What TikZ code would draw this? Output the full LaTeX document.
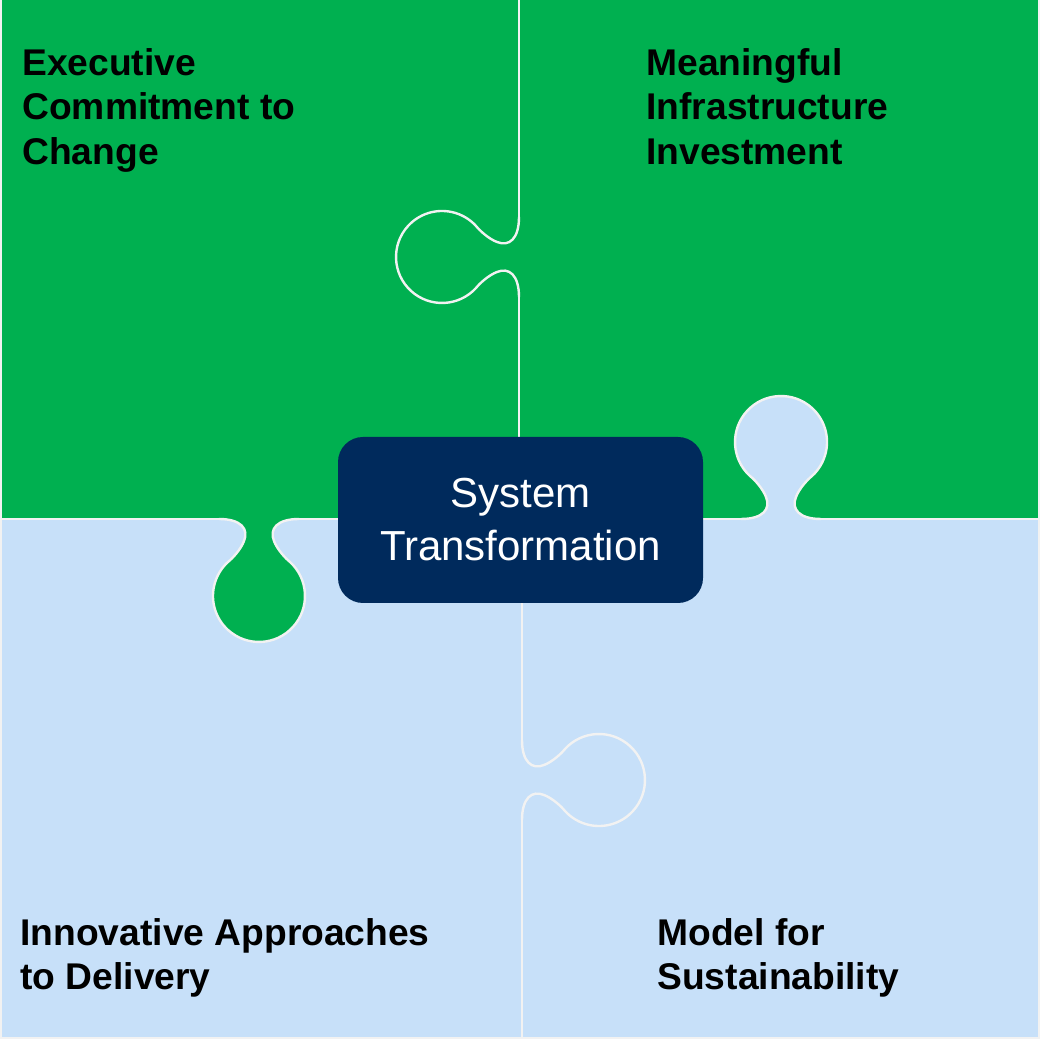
\documentclass[tikz,border=0pt]{standalone}
\usepackage{fontspec}
\setmainfont{Liberation Sans}
\definecolor{pgreen}{RGB}{0,176,80}
\definecolor{pblue}{RGB}{199,224,249}
\definecolor{pnavy}{RGB}{0,42,92}
\definecolor{pline}{RGB}{242,242,242}
\tikzset{
  seam/.style={draw=pline, line width=1.2pt, line cap=round},
  knob/.pic={\path[pic actions] (-40,0) .. controls (-18,0) and (-10,10) .. (-15,22)
    .. controls (-18,30) and (-26,39) .. (-31,43)
    arc[start angle=227.6, end angle=-47.6, radius=46]
    .. controls (26,39) and (18,30) .. (15,22)
    .. controls (10,10) and (18,0) .. (40,0);},
  lbl/.style={anchor=north west, align=left, inner sep=0pt,
    font=\bfseries\fontsize{18.6}{22.3}\selectfont},
  sysbox/.style={fill=pnavy, text=white, rounded corners=12.5pt, inner sep=0pt,
    minimum width=182.5pt, minimum height=83pt, align=center,
    font=\fontsize{21}{26.5}\selectfont}
}
\begin{document}
\begin{tikzpicture}[x=0.5pt,y=0.5pt]
\useasboundingbox (0,0) rectangle (1040,1039);
\fill[pgreen] (0,520) rectangle (1040,1039);
\fill[pblue] (0,0) rectangle (1040,520);
\draw[seam] (1,1039) -- (1,1) -- (1039,1) -- (1039,1039);
\draw[seam] (519,1039) -- (519,822);
\draw[seam] (519,742) -- (519,520);
\draw[seam] (522,520) -- (522,299);
\draw[seam] (522,219) -- (522,0);
\draw[seam] (0,520) -- (219,520);
\draw[seam] (299,520) -- (741,520);
\draw[seam] (821,520) -- (1040,520);
\pic[seam, rotate=90] at (519,782) {knob};
\pic[seam, fill=pblue] at (781,520) {knob};
\pic[seam, fill=pgreen, rotate=180] at (259,520) {knob};
\pic[seam, rotate=-90] at (522,259) {knob};
\node[lbl] (exec) at (22,991) {Executive\\Commitment to\\Change};
\node[lbl] (infra) at (646,991) {Meaningful\\Infrastructure\\Investment};
\node[lbl] (deliv) at (20,121) {Innovative Approaches\\to Delivery};
\node[lbl] (sust) at (657,121) {Model for\\Sustainability};
\node[sysbox] (sys) at (520.5,519) {System\\Transformation};
\end{tikzpicture}
\end{document}
